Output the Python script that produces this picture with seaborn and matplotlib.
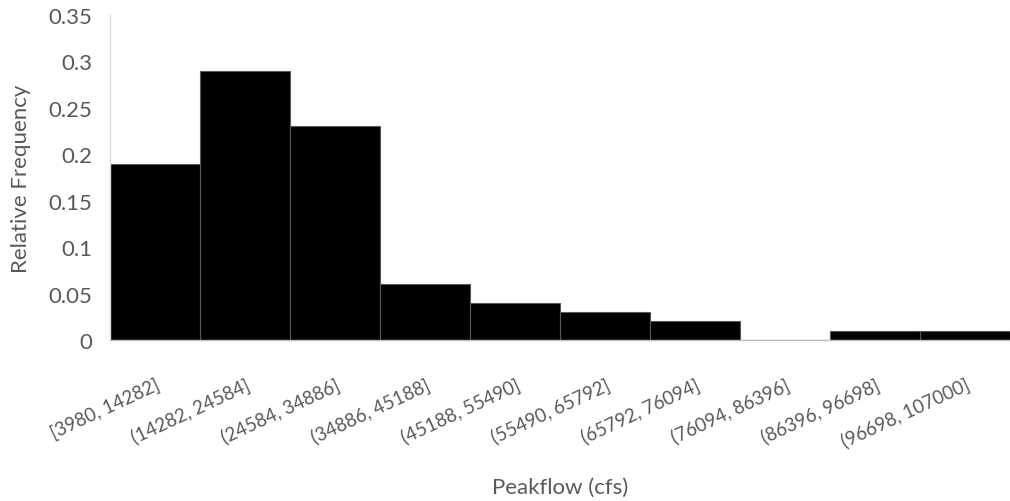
import matplotlib
matplotlib.use("Agg")
import matplotlib.pyplot as plt
import seaborn as sns
import pandas as pd

bins = ["[3980, 14282]", "(14282, 24584]", "(24584, 34886]", "(34886, 45188]",
        "(45188, 55490]", "(55490, 65792]", "(65792, 76094]", "(76094, 86396]",
        "(86396, 96698]", "(96698, 107000]"]
rel_freq = [0.19, 0.29, 0.23, 0.06, 0.04, 0.03, 0.02, 0.0, 0.01, 0.01]
y_ticks = [0, 0.05, 0.1, 0.15, 0.2, 0.25, 0.3, 0.35]
y_tick_labels = ["0", "0.05", "0.1", "0.15", "0.2", "0.25", "0.3", "0.35"]

sns.set_style("white")
plt.rcParams["font.family"] = ["Lato", "DejaVu Sans"]

df = pd.DataFrame({"bin": bins, "freq": rel_freq})

fig = plt.figure(figsize=(10.1, 5.02), dpi=100)
ax = fig.add_axes([110 / 1010, 1 - 341 / 502, 900 / 1010, 325 / 502])

sns.barplot(data=df, x="bin", y="freq", color="black", width=1.0,
            edgecolor="#595959", linewidth=0.8, saturation=1, ax=ax)

ax.set_xlim(-0.5, len(bins) - 0.5)
ax.set_ylim(0, 0.35)
ax.set_yticks(y_ticks)
ax.set_yticklabels(y_tick_labels)

text_col = "#595959"
ax.tick_params(axis="y", length=0, pad=13, labelsize=16, labelcolor=text_col)
ax.tick_params(axis="x", length=0, pad=25, labelsize=13.5, labelcolor=text_col)
for lbl in ax.get_xticklabels():
    lbl.set_rotation(25)
    lbl.set_ha("right")
    lbl.set_rotation_mode("anchor")

for side in ["top", "right"]:
    ax.spines[side].set_visible(False)
ax.spines["left"].set_color("#d9d9d9")
ax.spines["left"].set_linewidth(1.0)
ax.spines["bottom"].set_color("#bfbfbf")
ax.spines["bottom"].set_linewidth(1.0)

ax.set_xlabel("Peakflow (cfs)", fontsize=16, color=text_col)
ax.xaxis.set_label_coords(0.5, -0.42)
ax.set_ylabel("Relative Frequency", fontsize=16, color=text_col)
ax.yaxis.set_label_coords(-0.088, 0.5)

fig.savefig("out.png", dpi=100)
